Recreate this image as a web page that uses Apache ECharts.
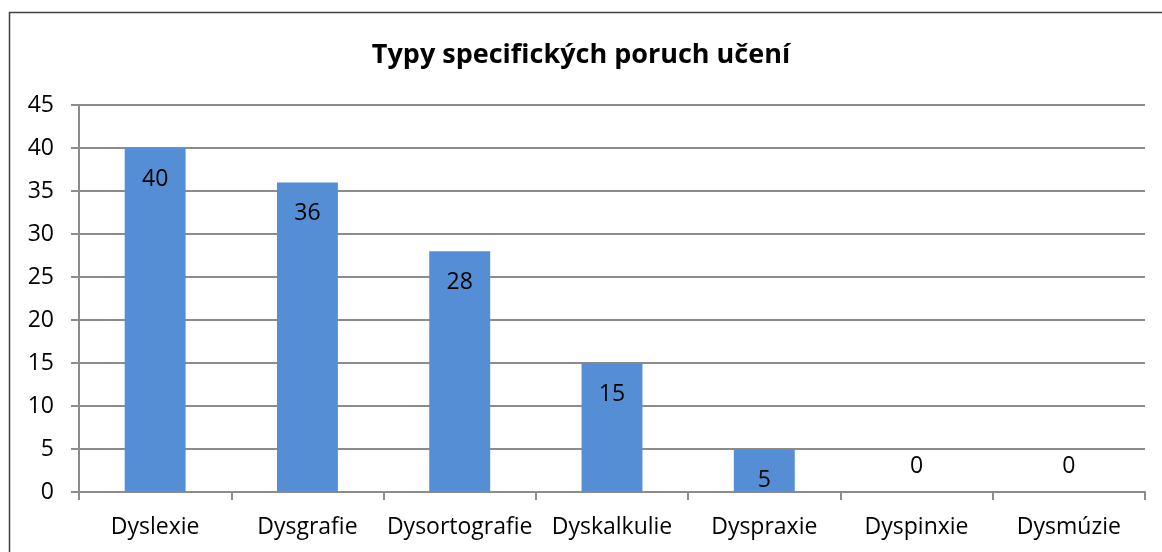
<!DOCTYPE html>
<html>
<head>
<meta charset="utf-8">
<script src="https://cdn.jsdelivr.net/npm/echarts@6/dist/echarts.min.js"></script>
<style>
  html, body { margin: 0; padding: 0; background: #fff; }
  #chart { width: 1162px; height: 552px; }
</style>
</head>
<body>
<div id="chart"></div>
<script>
const categories = ['Dyslexie', 'Dysgrafie', 'Dysortografie', 'Dyskalkulie', 'Dyspraxie', 'Dyspinxie', 'Dysmúzie']
const values = [40, 36, 28, 15, 5, 0, 0]
const yTicks = [0, 5, 10, 15, 20, 25, 30, 35, 40, 45]

const font = '"Open Sans", "DejaVu Sans", sans-serif'
const chart = echarts.init(document.getElementById('chart'))

chart.setOption({
  animation: false,
  graphic: [
    {
      type: 'rect',
      shape: { x: 9.5, y: 12.5, width: 1200, height: 600 },
      style: { fill: 'none', stroke: '#404040', lineWidth: 1.5 },
      silent: true
    }
  ],
  title: {
    text: 'Typy specifických poruch učení',
    left: 'center',
    top: 37,
    textStyle: { fontFamily: font, fontWeight: 'bold', fontSize: 27, color: '#000' }
  },
  grid: { left: 79, right: 17, top: 105, bottom: 60, containLabel: false },
  xAxis: {
    type: 'category',
    data: categories,
    axisLine: { lineStyle: { color: '#8c8c8c', width: 2 } },
    axisTick: { show: true, length: 8, lineStyle: { color: '#8c8c8c', width: 2 } },
    axisLabel: { color: '#000', fontFamily: font, fontSize: 23, margin: 24, interval: 0 },
    splitLine: { show: false }
  },
  yAxis: {
    type: 'value',
    min: yTicks[0],
    max: yTicks[yTicks.length - 1],
    interval: 5,
    axisLine: { show: true, lineStyle: { color: '#8c8c8c', width: 2 } },
    axisTick: { show: true, length: 8, lineStyle: { color: '#8c8c8c', width: 2 } },
    axisLabel: { color: '#000', fontFamily: font, fontSize: 23, margin: 25 },
    splitLine: { lineStyle: { color: '#8c8c8c', width: 2 } }
  },
  series: [
    {
      type: 'bar',
      barWidth: '40%',
      itemStyle: { color: '#558ed5' },
      data: values.map((v) => ({
        value: v,
        label: v > 0
          ? { show: true, position: 'insideTop', distance: 20 }
          : { show: true, position: 'top', distance: 14 }
      })),
      label: { color: '#000', fontFamily: font, fontSize: 23 }
    }
  ]
})
</script>
</body>
</html>
